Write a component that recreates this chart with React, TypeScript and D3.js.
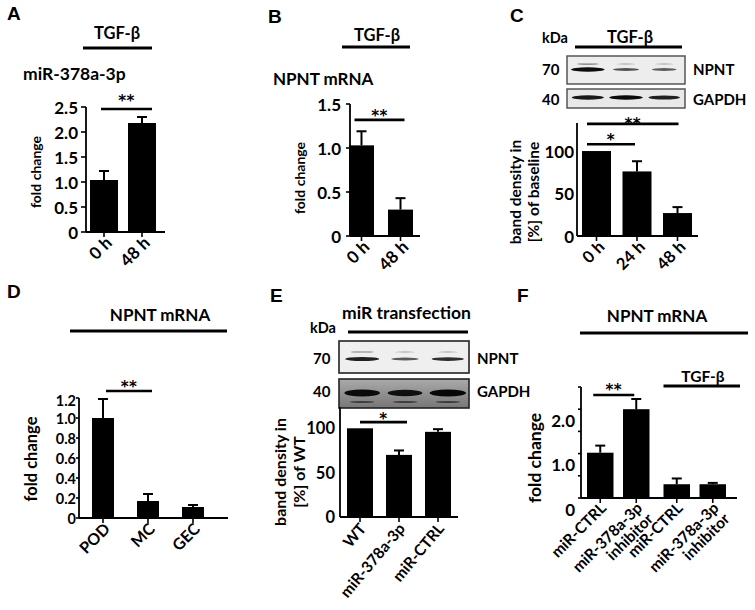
import React from "react";
import * as d3 from "d3";

const FONT = "Lato, 'DejaVu Sans', sans-serif";
const LETTER_FONT = "'Liberation Sans', Arial, sans-serif";
const STAR_FONT = "'DejaVu Sans', sans-serif";

// ---------- Panel A: miR-378a-3p after TGF-β ----------
const aCategories = ["0 h", "48 h"];
const aValues = [1.04, 2.18];
const aErrors = [0.18, 0.12];
const aTicks = [0, 0.5, 1, 1.5, 2, 2.5];
const aSignif = [{ from: 0, to: 1, level: 2.46, label: "**" }];

// ---------- Panel B: NPNT mRNA after TGF-β ----------
const bCategories = ["0 h", "48 h"];
const bValues = [1.03, 0.3];
const bErrors = [0.16, 0.13];
const bTicks = [0, 0.5, 1, 1.5];
const bSignif = [{ from: 0, to: 1, level: 1.32, label: "**" }];

// ---------- Panel C: NPNT protein after TGF-β ----------
const cCategories = ["0 h", "24 h", "48 h"];
const cValues = [100, 76, 27];
const cErrors = [0, 12, 7];
const cTicks = [0, 50, 100];
const cSignif = [
  { from: 0, to: 1, level: 108, label: "*" },
  { from: 0, to: 2, level: 132, label: "**" },
];
const cNpntBands = [1.0, 0.5, 0.42];
const cGapdhBands = [0.9, 1.0, 0.85];

// ---------- Panel D: NPNT mRNA per cell type ----------
const dCategories = ["POD", "MC", "GEC"];
const dValues = [1.0, 0.17, 0.11];
const dErrors = [0.19, 0.07, 0.02];
const dTicks = [0, 0.2, 0.4, 0.6, 0.8, 1.0, 1.2];
const dSignif = [{ from: 0, to: 1, level: 1.27, label: "**" }];

// ---------- Panel E: miR transfection ----------
const eCategories = ["WT", "miR-378a-3p", "miR-CTRL"];
const eValues = [100, 70, 96];
const eErrors = [0, 5, 3];
const eTicks = [0, 50, 100];
const eSignif = [{ from: 0, to: 1, level: 107, label: "*" }];
const eNpntBands = [0.85, 0.45, 0.75];
const eGapdhBands = [0.95, 0.9, 1.0];

// ---------- Panel F: inhibitor ----------
const fGroups = ["control", "TGF-β"];
const fCategories = ["miR-CTRL", "miR-378a-3p\ninhibitor", "miR-CTRL", "miR-378a-3p\ninhibitor"];
const fValues = [1.02, 2.0, 0.31, 0.31];
const fErrors = [0.16, 0.23, 0.13, 0.03];
const fTicks = [0, 0.5, 1, 1.5, 2, 2.5];
const fTickLabels = ["0", "", "1.0", "", "2.0", ""];
const fSignif = [{ from: 0, to: 1, level: 2.32, label: "**" }];

type Sig = { from: number; to: number; level: number; label: string };

function bandFor(n: number, start: number, w: number, step: number) {
  const pi = (step - w) / step;
  return d3
    .scaleBand<string>()
    .domain(d3.range(n).map(String))
    .range([start, start + step * (n - pi)])
    .paddingInner(pi)
    .paddingOuter(0);
}

type PanelProps = {
  labels: string[];
  values: number[];
  errors: number[];
  y: d3.ScaleLinear<number, number>;
  left: (i: number) => number;
  barW: number;
  axisX: number;
  axisRight: number;
  ticks: number[];
  tickText: (v: number, i: number) => string;
  tickSize: number;
  tickGap: number;
  tickLen: number;
  tickDy?: (i: number) => number;
  labSize: number;
  labDx: number;
  labDy: number;
  labAngle: number;
  sigs: Sig[];
  sigOff: [number, number, number][];
  sigSize: number;
};

function BarPanel(p: PanelProps) {
  const [y0, yTop] = p.y.range();
  const cx = (i: number) => p.left(i) + p.barW / 2;
  return (
    <g fontFamily={FONT} fontWeight={700}>
      {p.values.map((v, i) => (
        <rect key={"b" + i} x={p.left(i)} y={p.y(v)} width={p.barW} height={y0 - p.y(v)} fill="#000" />
      ))}
      {p.values.map((v, i) =>
        p.errors[i] > 0 ? (
          <g key={"e" + i} stroke="#000" strokeWidth={2}>
            <line x1={cx(i)} x2={cx(i)} y1={p.y(v)} y2={p.y(v + p.errors[i])} />
            <line x1={cx(i) - 5} x2={cx(i) + 5} y1={p.y(v + p.errors[i])} y2={p.y(v + p.errors[i])} />
          </g>
        ) : null
      )}
      <line x1={p.axisX} x2={p.axisX} y1={y0} y2={yTop} stroke="#000" strokeWidth={1.8} />
      <line x1={p.axisX} x2={p.axisRight} y1={y0} y2={y0} stroke="#000" strokeWidth={1.8} />
      {p.ticks.map((t, i) => (
        <g key={"t" + i}>
          <line x1={p.axisX - p.tickLen} x2={p.axisX} y1={p.y(t)} y2={p.y(t)} stroke="#000" strokeWidth={1.6} />
          <text
            x={p.axisX - p.tickGap}
            y={p.y(t) + (p.tickDy ? p.tickDy(i) : 0)}
            textAnchor="end"
            dominantBaseline="central"
            fontSize={p.tickSize}
          >
            {p.tickText(t, i)}
          </text>
        </g>
      ))}
      {p.values.map((_, i) => (
        <line key={"xt" + i} x1={cx(i)} x2={cx(i)} y1={y0} y2={y0 + 5} stroke="#000" strokeWidth={1.6} />
      ))}
      {p.labels.map((l, i) => (
        <text
          key={"xl" + i}
          transform={`translate(${cx(i) + p.labDx},${y0 + p.labDy}) rotate(${p.labAngle})`}
          textAnchor="end"
          fontSize={p.labSize}
        >
          {l.split("\n").map((s, k) => (
            <tspan key={k} x={0} dy={k === 0 ? 0 : p.labSize * 1.0}>
              {s}
            </tspan>
          ))}
        </text>
      ))}
      {p.sigs.map((s, i) => {
        const x1 = cx(s.from) + p.sigOff[i][0];
        const x2 = cx(s.to) + p.sigOff[i][1];
        const ly = p.y(s.level);
        return (
          <g key={"s" + i}>
            <line x1={x1} x2={x2} y1={ly} y2={ly} stroke="#000" strokeWidth={2.6} />
            <text
              x={(x1 + x2) / 2}
              y={ly - p.sigOff[i][2] + p.sigSize * 0.58}
              textAnchor="middle"
              fontSize={p.sigSize}
              fontFamily={STAR_FONT}
              letterSpacing={0.5}
            >
              {s.label}
            </text>
          </g>
        );
      })}
    </g>
  );
}

function YTitle(props: { x: number; y: number; lines: string[]; size: number; lh?: number }) {
  return (
    <text
      transform={`translate(${props.x},${props.y}) rotate(-90)`}
      textAnchor="middle"
      fontSize={props.size}
      fontWeight={700}
      fontFamily={FONT}
    >
      {props.lines.map((l, i) => (
        <tspan key={i} x={0} dy={i === 0 ? 0 : props.lh || props.size * 1.1}>
          {l}
        </tspan>
      ))}
    </text>
  );
}

function T(props: { x: number; y: number; s: number; a?: string; f?: string; children: React.ReactNode }) {
  return (
    <text
      x={props.x}
      y={props.y}
      fontSize={props.s}
      textAnchor={(props.a as any) || "start"}
      fontWeight={700}
      fontFamily={props.f || FONT}
    >
      {props.children}
    </text>
  );
}

function HLine(props: { x1: number; x2: number; y: number; w?: number }) {
  return <line x1={props.x1} x2={props.x2} y1={props.y} y2={props.y} stroke="#000" strokeWidth={props.w || 3} />;
}

const fmt1 = (v: number) => (v === 0 ? "0" : d3.format(".1f")(v));
const fmt0 = (v: number) => d3.format("d")(v);

export default function App() {
  // A
  const aY = d3.scaleLinear().domain([0, 2.5]).range([232, 107]);
  const aX = bandFor(aCategories.length, 90, 28, 38);
  // B
  const bY = d3.scaleLinear().domain([0, 1.5]).range([236, 104]);
  const bX = bandFor(bCategories.length, 349, 25, 39);
  // C
  const cY = d3.scaleLinear().domain([0, 133]).range([236, 123]);
  const cX = bandFor(cCategories.length, 582, 29, 40.5);
  const cLane = d3.scaleBand<string>().domain(cCategories).range([571, 681]).paddingInner(0.12);
  // D
  const dY = d3.scaleLinear().domain([0, 1.2]).range([518, 398]);
  const dX = bandFor(dCategories.length, 92, 22, 45);
  // E
  const eY = d3.scaleLinear().domain([0, 124]).range([517, 407]);
  const eX = bandFor(eCategories.length, 347, 26, 39);
  const eLane = d3.scaleBand<string>().domain(eCategories).range([344, 466]).paddingInner(0.15);
  // F
  const fY = d3.scaleLinear().domain([0, 2.5]).range([498, 387]);
  const fOuter = d3.scaleBand<string>().domain(fGroups).range([587, 587 + 76.5 * 2]).paddingInner(0);
  const fInner = bandFor(2, 0, 26.5, 36);
  const fLeft = (i: number) => (fOuter(fGroups[Math.floor(i / 2)]) as number) + (fInner(String(i % 2)) as number);

  const bandEllipse = (lane: d3.ScaleBand<string>, cats: string[], vals: number[], cy: number, key: string, base = 1.5, amp = 3) =>
    vals.map((k, i) => {
      const c = (lane(cats[i]) as number) + lane.bandwidth() / 2;
      const w = lane.bandwidth() * (0.55 + 0.45 * k);
      return (
        <ellipse
          key={key + i}
          cx={c}
          cy={cy}
          rx={w / 2}
          ry={(base + amp * k) / 2}
          fill="#000"
          opacity={0.35 + 0.6 * k}
          filter="url(#blur)"
        />
      );
    });

  return (
    <svg width={755} height={610} style={{ position: "absolute", left: 0, top: 0, background: "#fff" }}>
      <defs>
        <filter id="blur" x="-20%" y="-100%" width="140%" height="300%">
          <feGaussianBlur stdDeviation="0.7" />
        </filter>
        <linearGradient id="gapdhE" x1="0" y1="0" x2="0" y2="1">
          <stop offset="0" stopColor="#aaaaaa" />
          <stop offset="1" stopColor="#777777" />
        </linearGradient>
      </defs>
      <rect x={0} y={0} width={755} height={610} fill="#fff" />

      {/* ---------------- Panel A ---------------- */}
      <T x={7} y={20} s={19} f={LETTER_FONT}>A</T>
      <T x={117} y={39} s={16.5} a="middle">TGF-β</T>
      <HLine x1={83} x2={152} y={48} />
      <T x={23} y={80} s={17.5}>miR-378a-3p</T>
      <YTitle x={41} y={172} lines={["fold change"]} size={14} />
      <BarPanel
        labels={aCategories}
        values={aValues}
        errors={aErrors}
        y={aY}
        left={(i) => aX(String(i)) as number}
        barW={aX.bandwidth()}
        axisX={86}
        axisRight={165}
        ticks={aTicks}
        tickText={(v) => fmt1(v)}
        tickSize={17}
        tickGap={8}
        tickLen={5}
        labSize={17}
        labDx={9}
        labDy={12}
        labAngle={-45}
        sigs={aSignif}
        sigOff={[[-3, 10, 12]]}
        sigSize={15}
      />

      {/* ---------------- Panel B ---------------- */}
      <T x={268} y={23} s={19} f={LETTER_FONT}>B</T>
      <T x={377} y={41} s={16.5} a="middle">TGF-β</T>
      <HLine x1={342} x2={410} y={47} />
      <T x={273} y={85} s={17}>NPNT mRNA</T>
      <YTitle x={305} y={178} lines={["fold change"]} size={14} />
      <BarPanel
        labels={bCategories}
        values={bValues}
        errors={bErrors}
        y={bY}
        left={(i) => bX(String(i)) as number}
        barW={bX.bandwidth()}
        axisX={350}
        axisRight={420}
        ticks={bTicks}
        tickText={(v) => fmt1(v)}
        tickSize={17}
        tickGap={9}
        tickLen={4}
        labSize={17}
        labDx={9}
        labDy={12}
        labAngle={-45}
        sigs={bSignif}
        sigOff={[[-7, 4, 8]]}
        sigSize={15}
      />

      {/* ---------------- Panel C ---------------- */}
      <T x={510} y={22} s={19} f={LETTER_FONT}>C</T>
      <T x={542} y={43} s={14.5}>kDa</T>
      <T x={630} y={43} s={16.5} a="middle">TGF-β</T>
      <HLine x1={575} x2={682} y={47} />
      <rect x={567} y={56} width={118} height={28} fill="#ededed" stroke="#555" strokeWidth={1.5} />
      {bandEllipse(cLane, cCategories, [0.25, 0, 0], 64, "cu", 1, 1)}
      {bandEllipse(cLane, cCategories, cNpntBands, 69.5, "cn")}
      <rect x={567} y={89} width={118} height={19} fill="#e8e8e8" stroke="#555" strokeWidth={1.5} />
      {bandEllipse(cLane, cCategories, cGapdhBands, 97.5, "cg", 2.5, 2)}
      <T x={542} y={75} s={15}>70</T>
      <T x={542} y={105} s={15}>40</T>
      <T x={693} y={75} s={15}>NPNT</T>
      <T x={693} y={105} s={15}>GAPDH</T>
      <YTitle x={521} y={192} lines={["band density in", "[%] of baseline"]} size={15.5} lh={18} />
      <BarPanel
        labels={cCategories}
        values={cValues}
        errors={cErrors}
        y={cY}
        left={(i) => cX(String(i)) as number}
        barW={cX.bandwidth()}
        axisX={577}
        axisRight={698}
        ticks={cTicks}
        tickText={(v) => fmt0(v)}
        tickSize={17}
        tickGap={3}
        tickLen={0}
        labSize={16.5}
        labDx={9}
        labDy={12}
        labAngle={-45}
        sigs={cSignif}
        sigOff={[
          [-9.5, -2, 7.6],
          [-9.5, 1, 4],
        ]}
        sigSize={15}
      />

      {/* ---------------- Panel D ---------------- */}
      <T x={7} y={298} s={19} f={LETTER_FONT}>D</T>
      <T x={160} y={321} s={17} a="middle">NPNT mRNA</T>
      <HLine x1={70} x2={227} y={331} />
      <YTitle x={37} y={459} lines={["fold change"]} size={16.5} />
      <BarPanel
        labels={dCategories}
        values={dValues}
        errors={dErrors}
        y={dY}
        left={(i) => dX(String(i)) as number}
        barW={dX.bandwidth()}
        axisX={79}
        axisRight={228}
        ticks={dTicks}
        tickText={(v) => fmt1(v)}
        tickDy={(i) => (i === dTicks.length - 1 ? 2 : 0)}
        tickSize={14.5}
        tickGap={3}
        tickLen={3}
        labSize={16}
        labDx={8}
        labDy={12}
        labAngle={-45}
        sigs={dSignif}
        sigOff={[[3, 4, 7.6]]}
        sigSize={15}
      />

      {/* ---------------- Panel E ---------------- */}
      <T x={270} y={302} s={19} f={LETTER_FONT}>E</T>
      <T x={342} y={319} s={17.5}>miR transfection</T>
      <T x={310} y={333} s={14.5}>kDa</T>
      <HLine x1={348} x2={468} y={332} />
      <rect x={339} y={341} width={130} height={32} fill="#efefef" stroke="#222" strokeWidth={1.6} />
      {bandEllipse(eLane, eCategories, [0.2, 0, 0], 352, "eu", 1, 1)}
      {bandEllipse(eLane, eCategories, eNpntBands, 359, "en")}
      <rect x={339} y={379} width={130} height={29} fill="url(#gapdhE)" stroke="#222" strokeWidth={1.6} />
      {bandEllipse(eLane, eCategories, eGapdhBands, 393, "eg", 4, 3)}
      {bandEllipse(eLane, eCategories, [0.3, 0.3, 0.3], 402, "eg2", 1.5, 1)}
      <T x={313} y={364} s={15}>70</T>
      <T x={313} y={397} s={15}>40</T>
      <T x={477} y={364} s={15}>NPNT</T>
      <T x={477} y={397} s={15}>GAPDH</T>
      <YTitle x={286} y={472} lines={["band density in", "[%] of WT"]} size={16} lh={19} />
      <BarPanel
        labels={eCategories}
        values={eValues}
        errors={eErrors}
        y={eY}
        left={(i) => eX(String(i)) as number}
        barW={eX.bandwidth()}
        axisX={340}
        axisRight={458}
        ticks={eTicks}
        tickText={(v) => fmt0(v)}
        tickSize={16.5}
        tickGap={5}
        tickLen={0}
        labSize={15.5}
        labDx={7}
        labDy={12}
        labAngle={-50}
        sigs={eSignif}
        sigOff={[[0, 8, 6.7]]}
        sigSize={15}
      />

      {/* ---------------- Panel F ---------------- */}
      <T x={517} y={302} s={19} f={LETTER_FONT}>F</T>
      <T x={657} y={322} s={17} a="middle">NPNT mRNA</T>
      <HLine x1={580} x2={748} y={333} />
      <T x={703} y={382} s={15.5} a="middle">TGF-β</T>
      <HLine
        x1={fOuter("TGF-β") as number}
        x2={(fOuter("TGF-β") as number) + fOuter.bandwidth()}
        y={386}
      />
      <YTitle x={541} y={458} lines={["fold change"]} size={17.5} />
      <BarPanel
        labels={fCategories}
        values={fValues}
        errors={fErrors}
        y={fY}
        left={fLeft}
        barW={fInner.bandwidth()}
        axisX={581}
        axisRight={737}
        ticks={fTicks}
        tickText={(_, i) => fTickLabels[i]}
        tickDy={() => 11}
        tickSize={17}
        tickGap={6}
        tickLen={3}
        labSize={15.5}
        labDx={7}
        labDy={11}
        labAngle={-45}
        sigs={fSignif}
        sigOff={[[-7, -2, 9]]}
        sigSize={15}
      />
    </svg>
  );
}
